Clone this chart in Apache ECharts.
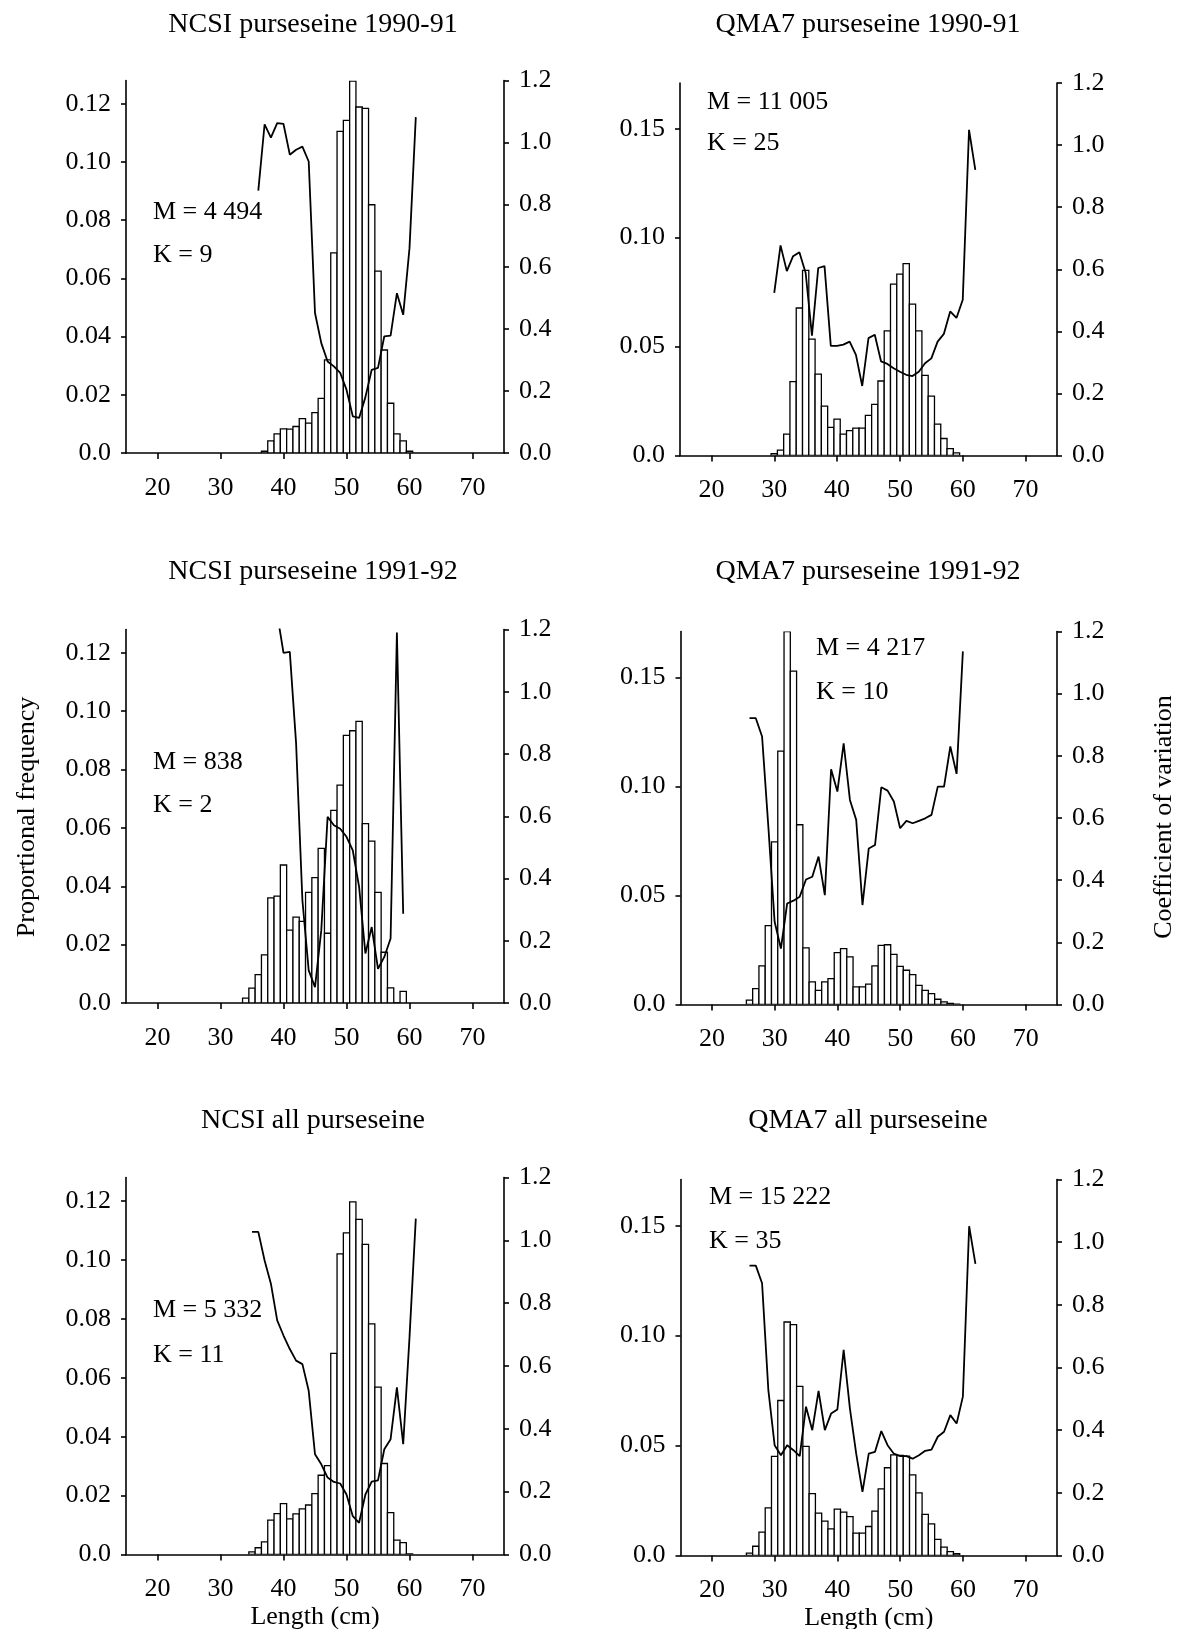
<!DOCTYPE html>
<html><head><meta charset="utf-8">
<script src="https://cdn.jsdelivr.net/npm/echarts@6/dist/echarts.min.js"></script>
<style>html,body{margin:0;padding:0;background:#fff}#c{width:1179px;height:1629px}</style>
</head><body><div id="c"></div>
<script>
// ---------- DATA ----------
const panelTitles = ['NCSI purseseine 1990-91','QMA7 purseseine 1990-91','NCSI purseseine 1991-92','QMA7 purseseine 1991-92','NCSI all purseseine','QMA7 all purseseine'];
const mTexts = ['M = 4 494','M = 11 005','M = 838','M = 4 217','M = 5 332','M = 15 222'];
const kTexts = ['K = 9','K = 25','K = 2','K = 10','K = 11','K = 35'];
const xTicks = [20,30,40,50,60,70];
const ncsiFreqTicks = [0,0.02,0.04,0.06,0.08,0.10,0.12];
const qmaFreqTicks = [0,0.05,0.10,0.15];
const cvTicks = [0,0.2,0.4,0.6,0.8,1.0,1.2];

// NCSI 1990-91
const lenNcsi9091 = [37,38,39,40,41,42,43,44,45,46,47,48,49,50,51,52,53,54,55,56,57,58,59,60];
const freqNcsi9091 = [0.0006,0.0042,0.0066,0.0083,0.0082,0.0091,0.0118,0.0103,0.0139,0.0188,0.0320,0.0688,0.1105,0.1143,0.1278,0.1189,0.1184,0.0853,0.0625,0.0354,0.0171,0.0066,0.0042,0.0006];
const cvLenNcsi9091 = [36,37,38,39,40,41,42,43,44,45,46,47,48,49,50,51,52,53,54,55,56,57,58,59,60,61];
const cvNcsi9091 = [0.845,1.059,1.016,1.063,1.060,0.961,0.977,0.987,0.939,0.451,0.354,0.295,0.279,0.258,0.204,0.118,0.113,0.18,0.268,0.274,0.376,0.378,0.515,0.445,0.66,1.082];

// QMA7 1990-91
const lenQma9091 = [30,31,32,33,34,35,36,37,38,39,40,41,42,43,44,45,46,47,48,49,50,51,52,53,54,55,56,57,58,59];
const freqQma9091 = [0.0009,0.0025,0.0098,0.0339,0.0677,0.0850,0.0534,0.0374,0.0227,0.0129,0.0167,0.0098,0.0114,0.0126,0.0126,0.0184,0.0235,0.0342,0.0572,0.0787,0.0833,0.0881,0.0695,0.0572,0.0368,0.0273,0.0144,0.0078,0.0032,0.0012];
const cvLenQma9091 = [30,31,32,33,34,35,36,37,38,39,40,41,42,43,44,45,46,47,48,49,50,51,52,53,54,55,56,57,58,59,60,61,62];
const cvQma9091 = [0.524,0.677,0.594,0.642,0.655,0.588,0.386,0.604,0.61,0.353,0.353,0.357,0.367,0.324,0.224,0.378,0.389,0.303,0.295,0.281,0.27,0.26,0.256,0.27,0.297,0.313,0.367,0.392,0.464,0.443,0.502,1.049,0.92];

// NCSI 1991-92
const lenNcsi9192 = [34,35,36,37,38,39,40,41,42,43,44,45,46,47,48,49,50,51,52,53,54,55,56,57,58,59];
const freqNcsi9192 = [0.0017,0.0051,0.0097,0.0165,0.0360,0.0366,0.0473,0.0250,0.0294,0.0280,0.0379,0.0430,0.0530,0.0239,0.0660,0.0747,0.0917,0.0933,0.0965,0.0615,0.0555,0.0379,0.0174,0.0052,0,0.0040];
const cvLenNcsi9192 = [39,40,41,42,43,44,45,46,47,48,49,50,51,52,53,54,55,56,57,58,59];
const cvNcsi9192 = [1.25,1.125,1.128,0.834,0.33,0.105,0.051,0.234,0.598,0.571,0.56,0.534,0.49,0.373,0.159,0.244,0.11,0.148,0.207,1.19,0.287];

// QMA7 1991-92
const lenQma9192 = [26,27,28,29,30,31,32,33,34,35,36,37,38,39,40,41,42,43,44,45,46,47,48,49,50,51,52,53,54,55,56,57,58,59];
const freqQma9192 = [0.0020,0.0073,0.0177,0.0362,0.0746,0.1162,0.1710,0.1528,0.0824,0.0260,0.0104,0.0065,0.0104,0.0119,0.0238,0.0256,0.0218,0.0081,0.0081,0.0093,0.0177,0.0271,0.0274,0.0230,0.0175,0.0157,0.0137,0.0088,0.0065,0.0050,0.0024,0.0012,0.0005,0.0002];
const cvLenQma9192 = [26,27,28,29,30,31,32,33,34,35,36,37,38,39,40,41,42,43,44,45,46,47,48,49,50,51,52,53,54,55,56,57,58,59,60];
const cvQma9192 = [0.921,0.921,0.862,0.572,0.266,0.18,0.325,0.334,0.347,0.402,0.411,0.476,0.352,0.757,0.685,0.84,0.658,0.594,0.32,0.502,0.513,0.699,0.688,0.653,0.567,0.591,0.583,0.591,0.599,0.61,0.701,0.701,0.83,0.742,1.136];

// NCSI all
const lenNcsiAll = [35,36,37,38,39,40,41,42,43,44,45,46,47,48,49,50,51,52,53,54,55,56,57,58,59,60];
const freqNcsiAll = [0.0009,0.0023,0.0043,0.0117,0.0139,0.0173,0.0121,0.0138,0.0155,0.0168,0.0207,0.0269,0.0302,0.0683,0.1021,0.1092,0.1197,0.1138,0.1053,0.0783,0.0568,0.0309,0.0142,0.0049,0.0040,0.0002];
const cvLenNcsiAll = [35,36,37,38,39,40,41,42,43,44,45,46,47,48,49,50,51,52,53,54,55,56,57,58,59,60,61];
const cvNcsiAll = [1.027,1.027,0.936,0.862,0.745,0.697,0.654,0.617,0.606,0.521,0.319,0.287,0.245,0.231,0.226,0.191,0.122,0.101,0.191,0.232,0.236,0.335,0.367,0.532,0.351,0.691,1.069];

// QMA7 all
const lenQmaAll = [26,27,28,29,30,31,32,33,34,35,36,37,38,39,40,41,42,43,44,45,46,47,48,49,50,51,52,53,54,55,56,57,58,59];
const freqQmaAll = [0.0011,0.0042,0.0106,0.0217,0.0451,0.0705,0.1062,0.1050,0.0769,0.0496,0.0281,0.0193,0.0156,0.0121,0.0211,0.0197,0.0177,0.0102,0.0102,0.0132,0.0202,0.0303,0.0399,0.0458,0.0455,0.0452,0.0367,0.0285,0.0187,0.0144,0.0073,0.0038,0.0018,0.0008];
const cvLenQmaAll = [26,27,28,29,30,31,32,33,34,35,36,37,38,39,40,41,42,43,44,45,46,47,48,49,50,51,52,53,54,55,56,57,58,59,60,61,62];
const cvQmaAll = [0.925,0.925,0.869,0.528,0.352,0.32,0.352,0.336,0.317,0.475,0.4,0.525,0.4,0.453,0.466,0.656,0.469,0.325,0.203,0.325,0.331,0.397,0.352,0.325,0.317,0.317,0.309,0.32,0.334,0.338,0.379,0.395,0.448,0.421,0.507,1.051,0.931];

// ---------- BUILD ----------
const FONT = 'Liberation Serif';
const BLACK = '#000';
const panels = [
  {len: lenNcsi9091, freq: freqNcsi9091, cvLen: cvLenNcsi9091, cv: cvNcsi9091, kind: 'ncsi'},
  {len: lenQma9091, freq: freqQma9091, cvLen: cvLenQma9091, cv: cvQma9091, kind: 'qma'},
  {len: lenNcsi9192, freq: freqNcsi9192, cvLen: cvLenNcsi9192, cv: cvNcsi9192, kind: 'ncsi'},
  {len: lenQma9192, freq: freqQma9192, cvLen: cvLenQma9192, cv: cvQma9192, kind: 'qma'},
  {len: lenNcsiAll, freq: freqNcsiAll, cvLen: cvLenNcsiAll, cv: cvNcsiAll, kind: 'ncsi'},
  {len: lenQmaAll, freq: freqQmaAll, cvLen: cvLenQmaAll, cv: cvQmaAll, kind: 'qma'}
];
const gridBoxes = [
  {left: 126, top: 80.5, width: 378, height: 372.5},
  {left: 680, top: 83, width: 377, height: 372.5},
  {left: 126, top: 629.5, width: 378, height: 373.5},
  {left: 680.5, top: 631.5, width: 376.5, height: 373},
  {left: 126, top: 1177.5, width: 378, height: 377},
  {left: 680.5, top: 1179.5, width: 376.5, height: 376}
];
const titlePos = [[313, 25],[868, 25],[313, 572],[868, 572],[313, 1121],[868, 1121]];
const mPos = [[153, 212, 255],[707, 102, 143],[153, 762, 805],[816, 648, 692],[153, 1310, 1355],[709, 1197, 1241]];

const axisLineStyle = {color: BLACK, width: 1.6};
const labelStyle = {color: BLACK, fontSize: 26, fontFamily: FONT};

const grid = [], xAxis = [], yAxis = [], series = [], graphic = [];
panels.forEach((p, i) => {
  grid.push(Object.assign({containLabel: false, outerBoundsMode: 'none'}, gridBoxes[i]));
  const bottomRow = i >= 4;
  xAxis.push({
    type: 'value', gridIndex: i, min: 15, max: 75,
    axisLine: {show: true, onZero: false, lineStyle: axisLineStyle},
    axisTick: {show: true, customValues: xTicks, length: 6, inside: false, lineStyle: axisLineStyle},
    axisLabel: Object.assign({customValues: xTicks, margin: 22}, labelStyle),
    splitLine: {show: false},
    name: bottomRow ? 'Length (cm)' : '',
    nameLocation: 'middle', nameGap: 50,
    nameTextStyle: {color: BLACK, fontSize: 26, fontFamily: FONT}
  });
  const isN = p.kind === 'ncsi';
  const fTicks = isN ? ncsiFreqTicks : qmaFreqTicks;
  yAxis.push({
    type: 'value', gridIndex: i, position: 'left', min: 0, max: isN ? 0.128 : 0.171,
    axisLine: {show: true, lineStyle: axisLineStyle},
    axisTick: {show: true, customValues: fTicks, length: 5, inside: false, lineStyle: axisLineStyle},
    axisLabel: Object.assign({customValues: fTicks, margin: 15,
      formatter: v => v === 0 ? '0.0' : v.toFixed(2)}, labelStyle),
    splitLine: {show: false}
  });
  yAxis.push({
    type: 'value', gridIndex: i, position: 'right', min: 0, max: 1.2,
    axisLine: {show: true, lineStyle: axisLineStyle},
    axisTick: {show: true, customValues: cvTicks, length: 5, inside: false, lineStyle: axisLineStyle},
    axisLabel: Object.assign({customValues: cvTicks, margin: 15, formatter: v => v.toFixed(1)}, labelStyle),
    splitLine: {show: false}
  });
  series.push({
    type: 'custom', xAxisIndex: i, yAxisIndex: 2 * i, clip: true,
    data: p.len.map((x, k) => [x, p.freq[k]]),
    renderItem: function (params, api) {
      const x = api.value(0), y = api.value(1);
      const a = api.coord([x - 0.5, y]);
      const b = api.coord([x + 0.5, 0]);
      return {type: 'rect', shape: {x: a[0], y: a[1], width: b[0] - a[0], height: b[1] - a[1]},
        style: {fill: '#fff', stroke: BLACK, lineWidth: 1.3}};
    },
    z: 2
  });
  series.push({
    type: 'line', xAxisIndex: i, yAxisIndex: 2 * i + 1, clip: true,
    data: p.cvLen.map((x, k) => [x, p.cv[k]]),
    symbol: 'none', showSymbol: false,
    lineStyle: {color: BLACK, width: 1.8},
    z: 3
  });
  graphic.push({type: 'text', x: titlePos[i][0], y: titlePos[i][1],
    style: {text: panelTitles[i], fontSize: 28, fontFamily: FONT, fill: BLACK, align: 'center', verticalAlign: 'middle'}});
  graphic.push({type: 'text', x: mPos[i][0], y: mPos[i][1],
    style: {text: mTexts[i], fontSize: 26, fontFamily: FONT, fill: BLACK, align: 'left', verticalAlign: 'middle'}});
  graphic.push({type: 'text', x: mPos[i][0], y: mPos[i][2],
    style: {text: kTexts[i], fontSize: 26, fontFamily: FONT, fill: BLACK, align: 'left', verticalAlign: 'middle'}});
});
graphic.push({type: 'text', x: 27, y: 817, rotation: Math.PI / 2,
  style: {text: 'Proportional frequency', fontSize: 26, fontFamily: FONT, fill: BLACK, align: 'center', verticalAlign: 'middle'}});
graphic.push({type: 'text', x: 1164, y: 817, rotation: Math.PI / 2,
  style: {text: 'Coefficient of variation', fontSize: 26, fontFamily: FONT, fill: BLACK, align: 'center', verticalAlign: 'middle'}});

const chart = echarts.init(document.getElementById('c'), null, {renderer: 'canvas'});
chart.setOption({
  backgroundColor: '#fff',
  animation: false,
  grid, xAxis, yAxis, series, graphic
});
</script>
</body></html>
